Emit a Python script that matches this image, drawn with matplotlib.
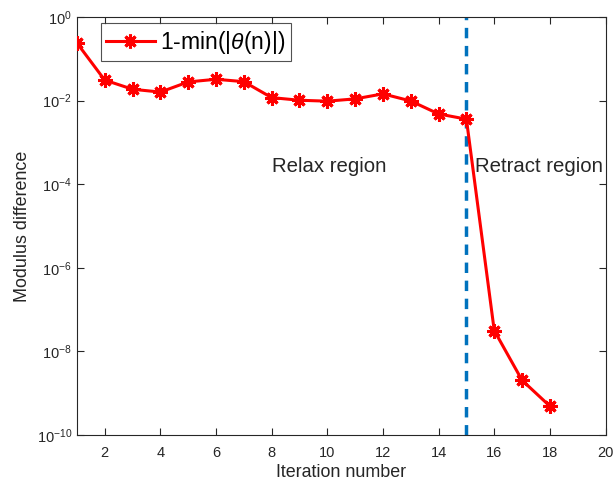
import numpy as np
import matplotlib
matplotlib.use('Agg')
import matplotlib.pyplot as plt
from matplotlib.lines import Line2D
from matplotlib.ticker import FixedLocator, LogFormatterSciNotation, NullLocator

plt.rcParams['font.family'] = ['Liberation Sans', 'DejaVu Sans']
plt.rcParams['mathtext.fontset'] = 'custom'
plt.rcParams['mathtext.rm'] = 'Liberation Sans'
plt.rcParams['mathtext.it'] = 'Liberation Sans:italic'

iterations = [1, 2, 3, 4, 5, 6, 7, 8, 9, 10, 11, 12, 13, 14, 15, 16, 17, 18]
modulus_diff = [0.24, 0.031, 0.0187, 0.016, 0.028, 0.0324, 0.0284, 0.0118,
                0.0102, 0.0097, 0.011, 0.0145, 0.0098, 0.0048, 0.0036,
                3.16e-8, 2.04e-9, 4.9e-10]
switch_iter = 15
x_ticks = [2, 4, 6, 8, 10, 12, 14, 16, 18, 20]
y_ticks = [1e-10, 1e-8, 1e-6, 1e-4, 1e-2, 1e0]

fig = plt.figure(figsize=(6.15, 4.82), dpi=100)
ax = fig.add_axes([0.125, 0.0975, 0.8596, 0.8672])

# matlab-ish '*' marker: 8 arms drawn thick
ax.semilogy(iterations, modulus_diff, color='#FF0000', linewidth=2.2,
            marker=(4, 2, 0), markersize=10, markeredgewidth=2.2, zorder=3)
ax.semilogy(iterations, modulus_diff, color='#FF0000', linestyle='none',
            marker=(4, 2, 45), markersize=10, markeredgewidth=2.2, zorder=3)
ax.axvline(switch_iter, color='#0072BD', linestyle=(0, (3, 2.2)), linewidth=2.5, zorder=2)

ax.text(8.0, 10**-3.57, 'Relax region', fontsize=14.7, color='#262626', va='center', ha='left')
ax.text(15.3, 10**-3.57, 'Retract region', fontsize=14.7, color='#262626', va='center', ha='left')

ax.set_xlim(1, 20)
ax.set_ylim(1e-10, 1e0)
ax.xaxis.set_major_locator(FixedLocator(x_ticks))
ax.yaxis.set_major_locator(FixedLocator(y_ticks))
ax.yaxis.set_major_formatter(LogFormatterSciNotation())
ax.yaxis.set_minor_locator(NullLocator())

ax.tick_params(direction='in', top=True, right=True, length=5, width=0.8,
               colors='#262626', labelsize=10.5)
ax.tick_params(axis='x', pad=8)
for sp in ax.spines.values():
    sp.set_color('#262626')
    sp.set_linewidth(0.8)

ax.set_xlabel('Iteration number', fontsize=12.9, color='#262626', labelpad=3)
ax.set_ylabel('Modulus difference', fontsize=12.9, color='#262626', labelpad=4)

handle = Line2D([], [], color='#FF0000', linewidth=2.2, marker=(8, 2, 0),
                markersize=10, markeredgewidth=2.2)
leg = ax.legend([handle], [r'1-min(|$\it{\theta}$(n)|)'], loc='upper left',
                bbox_to_anchor=(0.045, 0.9856), borderaxespad=0, fontsize=16.5,
                frameon=True, fancybox=False, edgecolor='#262626',
                handlelength=2.1, borderpad=0.25, handletextpad=0.25)
leg.get_frame().set_linewidth(0.8)

fig.savefig('out.png', dpi=100)
